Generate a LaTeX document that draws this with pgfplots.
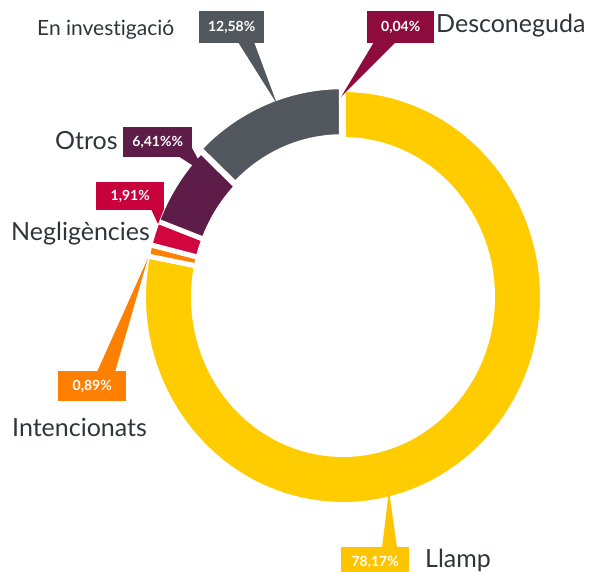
\documentclass[border=0pt]{standalone}
\usepackage{fontspec}
\setmainfont{Lato}[Ligatures={NoCommon,NoDiscretionary}]
\usepackage{pgfplots}
\usepackage{pgfplotstable}
\pgfplotsset{compat=1.18}

\definecolor{cLlamp}{HTML}{FFCC00}
\definecolor{cLlampBox}{HTML}{FFC400}
\definecolor{cInt}{HTML}{FF7F00}
\definecolor{cNeg}{HTML}{D2063F}
\definecolor{cNegBox}{HTML}{C8003C}
\definecolor{cOtros}{HTML}{5E1C48}
\definecolor{cInv}{HTML}{52565D}
\definecolor{cDesc}{HTML}{8E0C3D}
\definecolor{txt}{HTML}{30343B}

% slices, clockwise from the top
\pgfplotstableread[col sep=comma]{
name,value,explode,color
Llamp,78.17,0,cLlamp
Intencionats,0.89,0,cInt
Negligencies,1.91,0,cNeg
Otros,6.41,0,cOtros
Investigacio,12.58,3,cInv
Desconeguda,0.04,0,cDesc
}\piedata

\def\cum{0}
\pgfplotsforeachungrouped \i in {0,...,5}{%
  \pgfplotstablegetelem{\i}{value}\of\piedata
  \let\curval\pgfplotsretval
  \pgfmathsetmacro{\endA}{90-3.6*\cum}%
  \pgfmathsetmacro{\cumnew}{\cum+\curval}%
  \pgfmathsetmacro{\startA}{90-3.6*\cumnew}%
  \pgfmathsetmacro{\midA}{(\startA+\endA)/2}%
  \global\expandafter\let\csname sA\i\endcsname\startA
  \global\expandafter\let\csname eA\i\endcsname\endA
  \global\expandafter\let\csname mA\i\endcsname\midA
  \pgfplotstablegetelem{\i}{explode}\of\piedata
  \global\expandafter\let\csname ex\i\endcsname\pgfplotsretval
  \pgfplotstablegetelem{\i}{color}\of\piedata
  \global\expandafter\let\csname col\i\endcsname\pgfplotsretval
  \global\let\cum\cumnew
}

\def\Rx{199.5pt}\def\Ry{207.5pt}
\def\rx{149.5pt}\def\ry{157.5pt}

\begin{document}
\begin{tikzpicture}
\begin{axis}[scale only axis, width=590pt, height=572pt,
  xmin=0, xmax=590, ymin=0, ymax=572, y dir=reverse,
  hide axis, clip=false, disabledatascaling]
\pgfplotsinvokeforeach{0,...,5}{%
  \coordinate (c#1) at ([shift={(\csname mA#1\endcsname:\csname ex#1\endcsname pt)}]axis cs:343,297);
  \filldraw[fill=\csname col#1\endcsname, draw=white, line width=5pt, line join=miter]
    ([shift={(\csname sA#1\endcsname:\Rx\space and \Ry)}]c#1)
    arc[start angle=\csname sA#1\endcsname, end angle=\csname eA#1\endcsname, x radius=\Rx, y radius=\Ry]
    -- ([shift={(\csname eA#1\endcsname:\rx\space and \ry)}]c#1)
    arc[start angle=\csname eA#1\endcsname, end angle=\csname sA#1\endcsname, x radius=\rx, y radius=\ry]
    -- cycle;
}
% pointers
\fill[cInv] (axis cs:238,42) -- (axis cs:277,104) -- (axis cs:254,42) -- cycle;
\fill[cDesc] (axis cs:374,42) -- (axis cs:341,97) -- (axis cs:396,42) -- cycle;
\fill[cOtros] (axis cs:178,156) -- (axis cs:206,174) -- (axis cs:192,148) -- cycle;
\fill[cNegBox] (axis cs:151,209) -- (axis cs:158,224) -- (axis cs:164,209) -- cycle;
\fill[cInt] (axis cs:97,372) -- (axis cs:148,258) -- (axis cs:115,372) -- cycle;
\fill[cLlampBox] (axis cs:382,548) -- (axis cs:389,490) -- (axis cs:397,548) -- cycle;
% boxes
\tikzset{box/.style={text=white, font=\bfseries\fontsize{14}{14}\selectfont, inner sep=0pt, anchor=north west}}
\node[box, fill=cInv, minimum width=65pt, minimum height=32pt] at (axis cs:199,11) {12,58\%};
\node[box, fill=cDesc, minimum width=67pt, minimum height=32pt] at (axis cs:367,11) {0,04\%};
\node[box, fill=cOtros, minimum width=69pt, minimum height=30pt] at (axis cs:123,127) {6,41\%\%};
\node[box, fill=cNegBox, minimum width=68pt, minimum height=28pt] at (axis cs:96,182) {1,91\%};
\node[box, fill=cInt, minimum width=68pt, minimum height=30pt] at (axis cs:58,371) {0,89\%};
\node[box, fill=cLlampBox, minimum width=68pt, minimum height=30pt] at (axis cs:341,547) {78,17\%};
% category labels
\tikzset{lab/.style={anchor=base west, text=txt, inner sep=0pt, font=\fontsize{25}{25}\selectfont}}
\node[lab, font=\fontsize{21}{21}\selectfont] at (axis cs:37,36) {En investigació};
\node[lab] at (axis cs:436,33) {Desconeguda};
\node[lab] at (axis cs:55,150) {Otros};
\node[lab] at (axis cs:11,241) {Negligències};
\node[lab] at (axis cs:12,437) {Intencionats};
\node[lab] at (axis cs:425,567) {Llamp};
\end{axis}
\pgfresetboundingbox
\path[use as bounding box] (0,0) rectangle (590pt,572pt);
\end{tikzpicture}
\end{document}
